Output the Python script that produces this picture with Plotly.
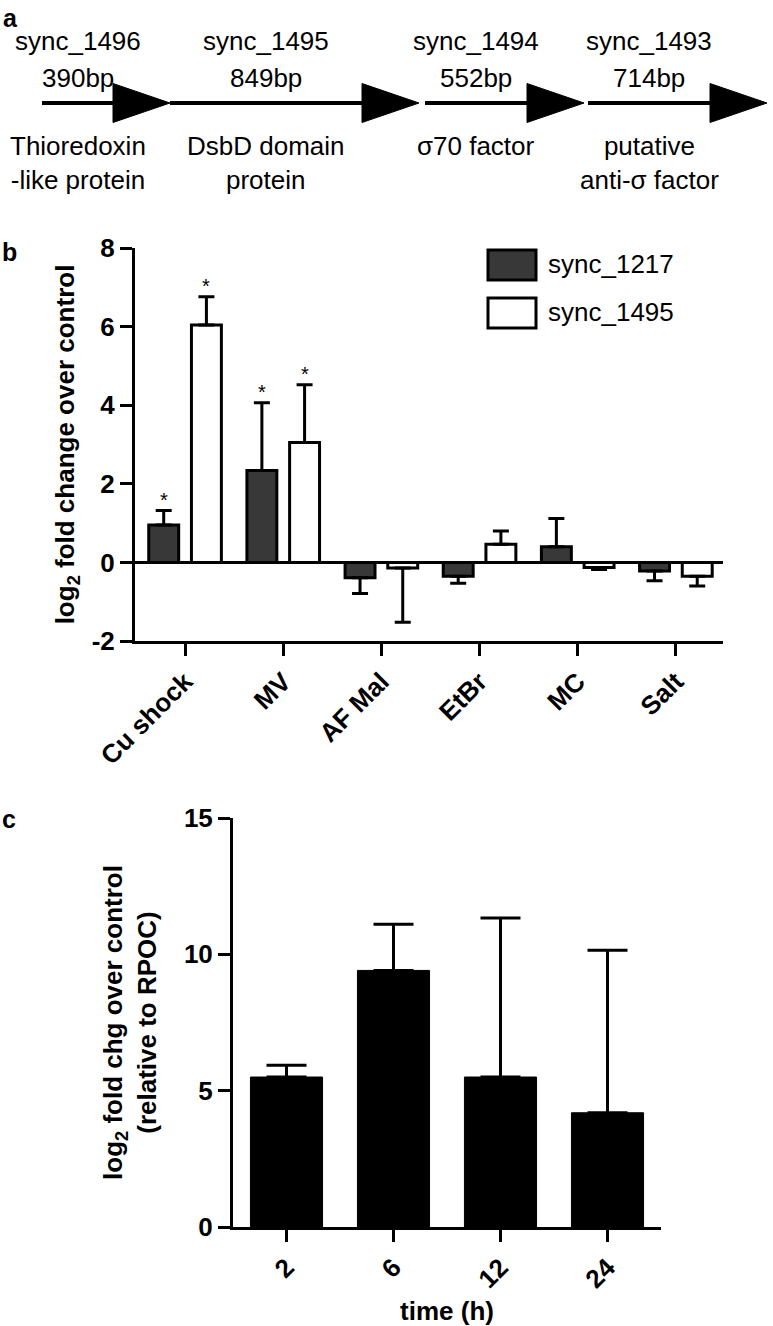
import plotly.graph_objects as go

W, H = 773, 1326
FONT = "Liberation Sans, Arial, Helvetica, sans-serif"

# ---------------- Panel a : gene map ----------------
gene_ids = ["sync_1496", "sync_1495", "sync_1494", "sync_1493"]
gene_lengths = ["390bp", "849bp", "552bp", "714bp"]
gene_products = ["Thioredoxin<br>-like protein", "DsbD domain<br>protein",
                 "σ70 factor", "putative<br>anti-σ factor"]
gene_start = [42, 170, 425, 588]     # map units
gene_end = [170, 419, 584, 767]      # map units

# ---------------- Panel b : stress conditions ----------------
conditions = ["Cu shock", "MV", "AF Mal", "EtBr", "MC", "Salt"]
sync1217_mean = [0.95, 2.34, -0.39, -0.35, 0.40, -0.22]
sync1217_err = [0.37, 1.72, 0.40, 0.18, 0.72, 0.25]
sync1495_mean = [6.04, 3.05, -0.14, 0.46, -0.13, -0.35]
sync1495_err = [0.72, 1.47, 1.38, 0.34, 0.05, 0.25]
sync1217_sig = [True, True, False, False, False, False]
sync1495_sig = [True, True, False, False, False, False]
b_ticks = [-2, 0, 2, 4, 6, 8]

# ---------------- Panel c : time course ----------------
time_h = ["2", "6", "12", "24"]
time_mean = [5.5, 9.41, 5.5, 4.19]
time_err = [0.43, 1.69, 5.83, 5.96]
c_ticks = [0, 5, 10, 15]


def fx(p):
    return p / W


def fy(p):
    return 1 - p / H


def up_err(means, errs):
    return [e if m >= 0 else 0 for m, e in zip(means, errs)]


def down_err(means, errs):
    return [0 if m >= 0 else e for m, e in zip(means, errs)]


fig = go.Figure()

# ---- panel a drawing ----
HEAD_LEN = 57
HEAD_HALF = 19.5
for s, e in zip(gene_start, gene_end):
    fig.add_trace(go.Scatter(x=[s, e - HEAD_LEN + 2], y=[0, 0], mode="lines",
                             line=dict(color="black", width=4),
                             xaxis="x3", yaxis="y3", hoverinfo="skip"))
    fig.add_trace(go.Scatter(x=[e - HEAD_LEN, e, e - HEAD_LEN, e - HEAD_LEN],
                             y=[-HEAD_HALF, 0, HEAD_HALF, -HEAD_HALF],
                             mode="lines", fill="toself", fillcolor="black",
                             line=dict(color="black", width=1),
                             xaxis="x3", yaxis="y3", hoverinfo="skip"))

annotations = []
for gid, gl, gp, s, e in zip(gene_ids, gene_lengths, gene_products, gene_start, gene_end):
    cx = (s + e - HEAD_LEN) / 2
    annotations.append(dict(x=cx, y=62, xref="x3", yref="y3", text=gid, showarrow=False,
                            font=dict(size=26, family=FONT, color="black")))
    annotations.append(dict(x=cx, y=25, xref="x3", yref="y3", text=gl, showarrow=False,
                            font=dict(size=26, family=FONT, color="black")))
    annotations.append(dict(x=cx, y=-26, xref="x3", yref="y3", text=gp, showarrow=False,
                            yanchor="top", font=dict(size=26, family=FONT, color="black")))

# ---- panel b bars ----
BAR_W = 0.305
OFF_DARK = -0.37
OFF_WHITE = 0.065
fig.add_trace(go.Bar(
    x=conditions, y=sync1217_mean, name="sync_1217",
    width=BAR_W, offset=OFF_DARK,
    marker=dict(color="#383838", line=dict(color="black", width=3)),
    error_y=dict(type="data", symmetric=False,
                 array=up_err(sync1217_mean, sync1217_err),
                 arrayminus=down_err(sync1217_mean, sync1217_err),
                 color="black", thickness=3, width=8),
    xaxis="x", yaxis="y", hoverinfo="skip"))
fig.add_trace(go.Bar(
    x=conditions, y=sync1495_mean, name="sync_1495",
    width=BAR_W, offset=OFF_WHITE,
    marker=dict(color="white", line=dict(color="black", width=3)),
    error_y=dict(type="data", symmetric=False,
                 array=up_err(sync1495_mean, sync1495_err),
                 arrayminus=down_err(sync1495_mean, sync1495_err),
                 color="black", thickness=3, width=8),
    xaxis="x", yaxis="y", hoverinfo="skip"))

for i, (m, e, sg) in enumerate(zip(sync1217_mean, sync1217_err, sync1217_sig)):
    if sg:
        annotations.append(dict(x=i + OFF_DARK + BAR_W / 2, y=m + e, xref="x", yref="y",
                                text="*", showarrow=False, yanchor="bottom", yshift=-2,
                                font=dict(size=20, family=FONT, color="black")))
for i, (m, e, sg) in enumerate(zip(sync1495_mean, sync1495_err, sync1495_sig)):
    if sg:
        annotations.append(dict(x=i + OFF_WHITE + BAR_W / 2, y=m + e, xref="x", yref="y",
                                text="*", showarrow=False, yanchor="bottom", yshift=-2,
                                font=dict(size=20, family=FONT, color="black")))

# ---- panel c bars ----
fig.add_trace(go.Bar(
    x=time_h, y=time_mean, width=0.674,
    marker=dict(color="black", line=dict(color="black", width=1)),
    error_y=dict(type="data", symmetric=False, array=time_err,
                 arrayminus=[0] * len(time_err),
                 color="black", thickness=3, width=20),
    xaxis="x2", yaxis="y2", hoverinfo="skip"))

# ---- legend (panel b) ----
legend_names = ["sync_1217", "sync_1495"]
legend_fill = ["#383838", "white"]
shapes = []
for k, (nm, fc) in enumerate(zip(legend_names, legend_fill)):
    top = 250 + k * 48
    shapes.append(dict(type="rect", xref="paper", yref="paper",
                       x0=fx(488), x1=fx(536), y0=fy(top), y1=fy(top + 30),
                       fillcolor=fc, line=dict(color="black", width=3)))
    annotations.append(dict(x=fx(546), y=fy(top + 14), xref="paper", yref="paper",
                            text=nm, showarrow=False, xanchor="left", yanchor="middle",
                            font=dict(size=26, family=FONT, color="black")))

# ---- panel letters ----
annotations.append(dict(x=fx(1), y=fy(2), xref="paper", yref="paper", text="a",
                        showarrow=False, xanchor="left", yanchor="top",
                        font=dict(size=25, family=FONT, color="black", weight=700)))
for letter, ypx in [("b", 252), ("c", 819)]:
    annotations.append(dict(x=0, y=fy(ypx), xref="paper", yref="paper", text=letter,
                            showarrow=False, xanchor="left", yanchor="middle",
                            font=dict(size=25, family=FONT, color="black", weight=700)))

BOLD = dict(family=FONT, color="black", weight=700)
axis_common = dict(showline=True, linecolor="black", linewidth=3, ticks="outside",
                   ticklen=12, tickwidth=3, tickcolor="black", showgrid=False,
                   zeroline=False, fixedrange=True, automargin=False)

fig.update_layout(
    width=W, height=H, margin=dict(l=0, r=0, t=0, b=0, pad=0, autoexpand=False),
    paper_bgcolor="white", plot_bgcolor="white", showlegend=False,
    barmode="overlay", font=dict(family=FONT, color="black"),
    xaxis=dict(domain=[fx(135), fx(723)], anchor="y", type="category",
               range=[-0.51, 5.48], tickangle=-45,
               tickfont=dict(size=26, **BOLD), **axis_common),
    yaxis=dict(domain=[fy(641), fy(248)], anchor="x", range=[-2, 8],
               tickvals=b_ticks, ticktext=[str(v) for v in b_ticks],
               tickfont=dict(size=26, **BOLD),
               title=dict(text="log<sub>2</sub> fold change over control",
                          font=dict(size=26, **BOLD), standoff=10),
               **{**axis_common, "zeroline": True},
               zerolinecolor="black", zerolinewidth=3),
    xaxis2=dict(domain=[fx(233), fx(661)], anchor="y2", type="category",
                range=[-0.5, 3.5], tickangle=-45,
                tickfont=dict(size=26, **BOLD),
                title=dict(text="time (h)", font=dict(size=26, **BOLD), standoff=12),
                **axis_common),
    yaxis2=dict(domain=[fy(1227), fy(818)], anchor="x2", range=[0, 15],
                tickvals=c_ticks, ticktext=[str(v) for v in c_ticks],
                tickfont=dict(size=26, **BOLD),
                title=dict(text="log<sub>2</sub> fold chg over control<br>(relative to RPOC)",
                           font=dict(size=26, **BOLD), standoff=20),
                **axis_common),
    xaxis3=dict(domain=[0, 1], anchor="y3", range=[0, W], visible=False,
                fixedrange=True, automargin=False),
    yaxis3=dict(domain=[fy(200), 1], anchor="x3", range=[-97, 103], visible=False,
                fixedrange=True, automargin=False),
    annotations=annotations, shapes=shapes,
)

fig.write_html("out.html", config={"displayModeBar": False},
               post_script="document.body.style.margin='0';")
